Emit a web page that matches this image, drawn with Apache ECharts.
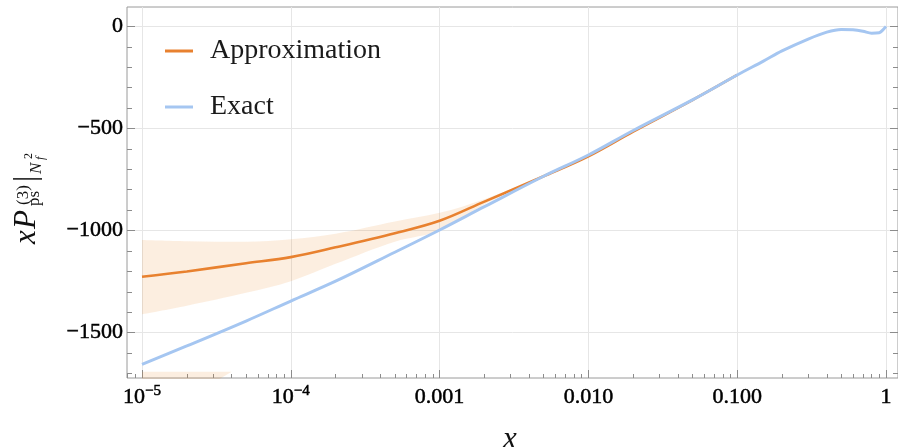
<!DOCTYPE html>
<html>
<head>
<meta charset="utf-8">
<script src="https://cdn.jsdelivr.net/npm/echarts@6/dist/echarts.min.js"></script>
<style>
  html, body { margin: 0; padding: 0; background: #fff; }
  #chart { width: 898px; height: 447px; }
</style>
</head>
<body>
<div id="chart"></div>
<script>
// ---- data (x in linear units; drawn on a log10 axis) ----
const xExact = [1e-5, 2e-5, 5e-5, 1e-4, 2e-4, 5e-4, 1e-3, 2e-3, 5e-3, 1e-2, 2e-2, 5e-2,
                0.1, 0.15, 0.2, 0.3, 0.4, 0.5, 0.6, 0.7, 0.8, 0.9, 0.95, 1];
const yExact = [-1655, -1565, -1443, -1345, -1248, -1106, -997, -883, -734, -630, -510, -360,
                -238, -170, -120, -62, -28, -15, -17, -24, -33, -31, -18, 0];

const xApprox = [1e-5, 2e-5, 5e-5, 1e-4, 2e-4, 5e-4, 1e-3, 2e-3, 5e-3, 1e-2, 2e-2, 5e-2, 0.1];
const yApprox = [-1226, -1200, -1160, -1130, -1082, -1013, -952, -858, -734, -636, -515, -361, -238];

// uncertainty band of the approximation
const xBand = [1e-5, 2e-5, 5e-5, 1e-4, 2e-4, 5e-4, 1e-3, 2e-3, 5e-3];
const bandUpper = [-1046, -1052, -1055, -1043, -1015, -955, -913, -846, -734];
const bandLower = [-1410, -1368, -1305, -1248, -1163, -1055, -1000, -872, -734];

// second band piece at the bottom edge
const xTail = [1e-5, 4e-5];
const tailUpper = [-1691, -1691];
const tailLower = [-1958, -1691];

// ticks
const xMajor = [1e-5, 1e-4, 1e-3, 1e-2, 1e-1, 1];
const xTickLabels = ['{b|10}{s|\u22125}', '{b|10}{s|\u22124}', '0.001', '0.010', '0.100', '1'];
const yMajor = [-1500, -1000, -500, 0];
const yTickLabels = ['\u22121500', '\u22121000', '\u2212500', '0'];
const yMinor = [-1700, -1600, -1400, -1300, -1200, -1100, -900, -800, -700, -600, -400, -300, -200, -100];

// ---- axis extents ----
const xMin = -5.1008, xMax = 0.0806;   // log10(x)
const yMin = -1722, yMax = 95;

const lg = v => Math.log10(v);
const xMajorLog = xMajor.map(lg);
const xMinorLog = [];
for (let n = -6; n <= 0; n++) {
  for (let k = 2; k <= 9; k++) {
    const v = lg(k) + n;
    if (v > xMin && v < xMax) xMinorLog.push(v);
  }
}

// rows are [y, log10(x)] so that stacking acts on the y values
const rows = (xs, ys) => xs.map((x, i) => [ys[i], lg(x)]);
const ENC = { x: 1, y: 0 };

const ORANGE = '#e8812f';
const BLUE = '#a5c6f1';
const BAND = 'rgba(236,140,50,0.15)';
const GRID = '#e6e6e6';
const AXIS = '#8c8c8c';
const SERIF = '"Liberation Serif", "Times New Roman", serif';

const chart = echarts.init(document.getElementById('chart'), null, { renderer: 'canvas' });

function bandSeries(name, xs, lower, upper, smooth) {
  return [
    {
      name: name + '-base', type: 'line', stack: name, stackStrategy: 'all',
      data: rows(xs, lower), encode: ENC, smooth: smooth,
      showSymbol: false, symbol: 'none', silent: true,
      lineStyle: { opacity: 0 }, z: 1
    },
    {
      name: name + '-fill', type: 'line', stack: name, stackStrategy: 'all',
      data: rows(xs, upper.map((u, i) => u - lower[i])), encode: ENC, smooth: smooth,
      showSymbol: false, symbol: 'none', silent: true,
      lineStyle: { opacity: 0 }, areaStyle: { color: BAND, opacity: 1 }, z: 1
    }
  ];
}

// tick numbers are set a little heavier than the legend text
const heavy = { textBorderColor: '#000', textBorderWidth: 0.5 };
const tickLabelStyle = { fontFamily: SERIF, fontSize: 22, color: '#000', ...heavy };
const noLine = { show: false, onZero: false };

const option = {
  animation: false,
  backgroundColor: '#fff',
  grid: {
    left: 127, right: 0, top: 7, bottom: 69,
    show: true, borderColor: '#9a9a9a', borderWidth: 1, backgroundColor: 'transparent'
  },
  legend: {
    left: 165, top: 36, orient: 'vertical', padding: 0,
    itemWidth: 28, itemHeight: 3, itemGap: 26, icon: 'rect',
    selectedMode: false,
    data: ['Approximation', 'Exact'],
    textStyle: { fontFamily: SERIF, fontSize: 28, lineHeight: 30, color: '#1a1a1a', padding: [0, 0, 0, 12] }
  },
  xAxis: [
    {
      type: 'value', min: xMin, max: xMax, position: 'bottom',
      axisLine: noLine,
      axisTick: { inside: true, length: 8, customValues: xMajorLog, lineStyle: { color: AXIS } },
      axisLabel: {
        customValues: xMajorLog, margin: 8,
        ...tickLabelStyle,
        formatter: v => xTickLabels[Math.round(v) + 5],
        rich: {
          b: { fontFamily: SERIF, fontSize: 22, lineHeight: 22, color: '#000', ...heavy },
          s: { fontFamily: SERIF, fontSize: 15, lineHeight: 15, padding: [0, 0, 12, 0], color: '#000', ...heavy }
        }
      },
      splitLine: { show: true, lineStyle: { color: GRID, width: 1 } }
    },
    {
      type: 'value', min: xMin, max: xMax, position: 'bottom',
      axisLine: noLine,
      axisTick: { inside: true, length: 4, customValues: xMinorLog, lineStyle: { color: AXIS } },
      axisLabel: { show: false },
      splitLine: { show: false }
    }
  ],
  yAxis: [
    {
      type: 'value', min: yMin, max: yMax, position: 'left',
      axisLine: noLine,
      axisTick: { inside: true, length: 8, customValues: yMajor, lineStyle: { color: AXIS } },
      axisLabel: {
        customValues: yMajor, margin: 4, ...tickLabelStyle,
        formatter: v => yTickLabels[yMajor.indexOf(Math.round(v))]
      },
      splitLine: { show: true, lineStyle: { color: GRID, width: 1 } }
    },
    {
      type: 'value', min: yMin, max: yMax, position: 'left',
      axisLine: noLine,
      axisTick: { inside: true, length: 5, customValues: yMinor, lineStyle: { color: AXIS } },
      axisLabel: { show: false }, splitLine: { show: false }
    },
    {
      type: 'value', min: yMin, max: yMax, position: 'right',
      axisLine: noLine,
      axisTick: { inside: true, length: 8, customValues: yMajor, lineStyle: { color: AXIS } },
      axisLabel: { show: false }, splitLine: { show: false }
    },
    {
      type: 'value', min: yMin, max: yMax, position: 'right',
      axisLine: noLine,
      axisTick: { inside: true, length: 5, customValues: yMinor, lineStyle: { color: AXIS } },
      axisLabel: { show: false }, splitLine: { show: false }
    }
  ],
  series: [
    ...bandSeries('band', xBand, bandLower, bandUpper, 0.35),
    ...bandSeries('tail', xTail, tailLower, tailUpper, false),
    {
      name: 'Approximation', type: 'line', data: rows(xApprox, yApprox), encode: ENC,
      smooth: 0.35, showSymbol: false, symbol: 'none', z: 3,
      color: ORANGE, itemStyle: { color: ORANGE },
      lineStyle: { color: ORANGE, width: 2.6 }
    },
    {
      name: 'Exact', type: 'line', data: rows(xExact, yExact), encode: ENC,
      smooth: 0.35, showSymbol: false, symbol: 'none', z: 4,
      color: BLUE, itemStyle: { color: BLUE },
      lineStyle: { color: BLUE, width: 3 }
    }
  ],
  graphic: [
    // y-axis title, rotated to read upwards
    {
      type: 'group', x: 27, y: 244, rotation: Math.PI / 2, silent: true,
      children: [
        { type: 'text', x: 0, y: 0, style: { text: 'x', fontFamily: SERIF, fontStyle: 'italic', fontSize: 31, fill: '#111', align: 'left', verticalAlign: 'middle' } },
        { type: 'text', x: 15, y: 0, style: { text: 'P', fontFamily: SERIF, fontStyle: 'italic', fontSize: 31, fill: '#111', align: 'left', verticalAlign: 'middle' } },
        { type: 'text', x: 39, y: -3, style: { text: '(3)', fontFamily: SERIF, fontSize: 17, fill: '#111', align: 'left', verticalAlign: 'middle' } },
        { type: 'text', x: 38, y: 8, style: { text: 'ps', fontFamily: SERIF, fontSize: 17, fill: '#111', align: 'left', verticalAlign: 'middle' } },
        { type: 'text', x: 62, y: 0, style: { text: '|', fontFamily: SERIF, fontSize: 31, fill: '#111', align: 'left', verticalAlign: 'middle' } },
        { type: 'text', x: 70, y: 10, style: { text: 'N', fontFamily: SERIF, fontStyle: 'italic', fontSize: 17, fill: '#111', align: 'left', verticalAlign: 'middle' } },
        { type: 'text', x: 84, y: 14, style: { text: 'f', fontFamily: SERIF, fontStyle: 'italic', fontSize: 12, fill: '#111', align: 'left', verticalAlign: 'middle' } },
        { type: 'text', x: 85, y: 2, style: { text: '2', fontFamily: SERIF, fontSize: 12, fill: '#111', align: 'left', verticalAlign: 'middle' } }
      ]
    },
    // x-axis title
    {
      type: 'text', left: 503, top: 424, silent: true,
      style: { text: 'x', fontFamily: SERIF, fontStyle: 'italic', fontSize: 31, fill: '#111' }
    }
  ]
};

chart.setOption(option);
</script>
</body>
</html>
